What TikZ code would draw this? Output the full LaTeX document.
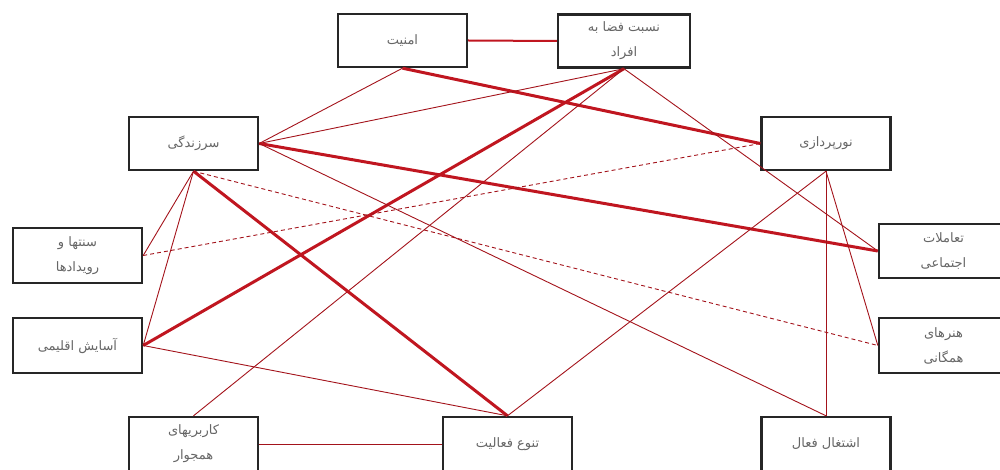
\documentclass[tikz,border=0pt]{standalone}
\usepackage{fontspec}
\newfontfamily\farsi[Script=Arabic]{DejaVu Sans}
\TeXXeTstate=1
\newcommand{\fa}[1]{{\farsi\beginR #1\endR}}
\definecolor{linkred}{RGB}{192,22,32}

\begin{document}
\begin{tikzpicture}[x=1pt,y=-1pt,
		box/.style={draw=black!85,line width=2.4pt,fill=white,minimum width=129pt,minimum height=53pt,inner sep=2pt,align=center,text=black!60,font=\fontsize{13}{25}\selectfont},
		thinlink/.style={linkred!85!black,line width=0.9pt},
		thicklink/.style={linkred,line width=3pt},
		dashlink/.style={linkred!85!black,line width=0.9pt,dash pattern=on 4pt off 3pt}]
		\useasboundingbox (0,0) rectangle (1000,470);
		\clip (0,0) rectangle (1000,470);
		
		\node[box] (amniat) at (402.5,40.5) {\fa{امنیت}};
		\node[box,minimum width=132pt] (nesbat) at (624,41) {\fa{نسبت فضا به}\\\fa{افراد}};
		\node[box] (sarzendegi) at (193.5,143.5) {\fa{سرزندگی}};
		\node[box] (noor) at (826,143.5) {\fa{نورپردازی}};
		\node[box,minimum height=55pt] (sonat) at (77.5,255.5) {\fa{سنتها و}\\\fa{رویدادها}};
		\node[box,minimum height=55pt] (asayesh) at (77.5,345.5) {\fa{آسایش اقلیمی}};
		\node[box,minimum height=54pt] (taamol) at (943.5,251) {\fa{تعاملات}\\\fa{اجتماعی}};
		\node[box,minimum height=55pt] (honar) at (943.5,345.5) {\fa{هنرهای}\\\fa{همگانی}};
		\node[box,minimum height=54pt] (karbari) at (193.5,444) {\fa{کاربریهای}\\\fa{همجوار}};
		\node[box,minimum height=54pt] (tanavo) at (507.5,444) {\fa{تنوع فعالیت}};
		\node[box,minimum height=54pt] (eshteghal) at (826,444) {\fa{اشتغال فعال}};
		
		\draw[linkred,line width=2pt] (amniat.east) -- (nesbat.west);
		\draw[thicklink] (amniat.south) -- (noor.west);
		\draw[thinlink] (amniat.south) -- (sarzendegi.east);
		\draw[thicklink] (nesbat.south) -- (asayesh.east);
		\draw[thinlink] (nesbat.south) -- (sarzendegi.east);
		\draw[thinlink] (nesbat.south) -- (karbari.north);
		\draw[thinlink] (nesbat.south) -- (taamol.west);
		\draw[thicklink] (sarzendegi.east) -- (taamol.west);
		\draw[thinlink] (sarzendegi.east) -- (eshteghal.north);
		\draw[thicklink] (sarzendegi.south) -- (tanavo.north);
		\draw[dashlink] (sarzendegi.south) -- (honar.west);
		\draw[thinlink] (sarzendegi.south) -- (sonat.east);
		\draw[thinlink] (sarzendegi.south) -- (asayesh.east);
		\draw[dashlink] (sonat.east) -- (noor.west);
		\draw[thinlink] (asayesh.east) -- (tanavo.north);
		\draw[thinlink] (karbari.east) -- (tanavo.west);
		\draw[thinlink] (noor.south) -- (tanavo.north);
		\draw[thinlink] (noor.south) -- (eshteghal.north);
		\draw[thinlink] (noor.south) -- (honar.west);
	\end{tikzpicture}
\end{document}
